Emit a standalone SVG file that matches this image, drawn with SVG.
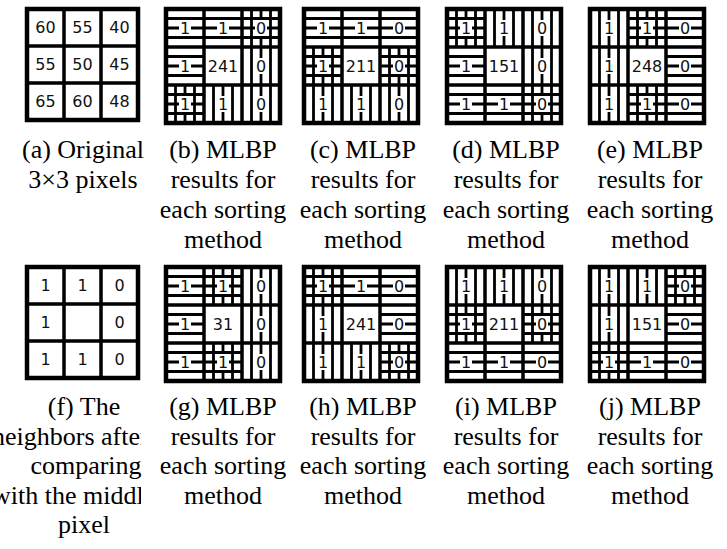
<svg xmlns="http://www.w3.org/2000/svg" xmlns:xlink="http://www.w3.org/1999/xlink" width="727" height="549" viewBox="0 0 727 549">
  <style>
    .s { stroke: #000; stroke-width: 2.8; fill: none; }
    .fo { stroke: #000; stroke-width: 4.5; fill: none; }
    .fi { stroke: #000; stroke-width: 3.5; fill: none; }
    .num { font-family: "DejaVu Sans", sans-serif; font-size: 16px; fill: #111; text-anchor: middle; }
    .cap { font-family: "Liberation Serif", "Times New Roman", serif; font-size: 26px; fill: #000; text-anchor: middle; }
    .capl { font-family: "Liberation Serif", "Times New Roman", serif; font-size: 26px; fill: #000; }
  </style>
  <defs>
    <!-- cell textures: horizontal bars, vertical bars, and both -->
    <g id="h"><path class="s" d="M0 9.5H38M0 19H38M0 28.5H38"/></g>
    <g id="v"><path class="s" d="M9.5 0V38M19 0V38M28.5 0V38"/></g>
    <g id="g"><use href="#h"/><use href="#v"/></g>
    <!-- 3x3 frames -->
    <g id="frame"><rect x="0" y="0" width="114" height="114" class="fo"/><path class="fi" d="M38 0V114M76 0V114M0 38H114M0 76H114"/></g>
    <g id="frame37"><rect x="0" y="0" width="111" height="111" class="fo"/><path class="fi" d="M37 0V111M74 0V111M0 37H111M0 74H111"/></g>
    <!-- white pad behind a single digit -->
    <rect id="box" x="-6" y="-8" width="12" height="16" fill="#fff"/>
    <!-- shared digit layout of the eight neighbours -->
    <g id="digits">
      <use href="#box" x="19" y="19"/><use href="#box" x="57" y="19"/><use href="#box" x="95" y="19"/>
      <use href="#box" x="19" y="57"/><use href="#box" x="95" y="57"/>
      <use href="#box" x="19" y="95"/><use href="#box" x="57" y="95"/><use href="#box" x="95" y="95"/>
      <text class="num" x="19" y="24.8">1</text><text class="num" x="57" y="24.8">1</text><text class="num" x="95" y="24.8">0</text>
      <text class="num" x="19" y="62.8">1</text><text class="num" x="95" y="62.8">0</text>
      <text class="num" x="19" y="100.8">1</text><text class="num" x="57" y="100.8">1</text><text class="num" x="95" y="100.8">0</text>
    </g>
    <clipPath id="colF"><rect x="0" y="380" width="141" height="169"/></clipPath>
  </defs>

  <rect width="727" height="549" fill="#fff"/>

  <!-- (a) original pixels -->
  <g id="panel-a" transform="translate(27,9)">
    <use href="#frame37"/>
    <text class="num" x="18.5" y="24.3">60</text><text class="num" x="55.5" y="24.3">55</text><text class="num" x="92.5" y="24.3">40</text>
    <text class="num" x="18.5" y="61.3">55</text><text class="num" x="55.5" y="61.3">50</text><text class="num" x="92.5" y="61.3">45</text>
    <text class="num" x="18.5" y="98.3">65</text><text class="num" x="55.5" y="98.3">60</text><text class="num" x="92.5" y="98.3">48</text>
  </g>

  <!-- (b) -->
  <g id="panel-b" transform="translate(166,9)">
    <use href="#h" x="0" y="0"/><use href="#h" x="38" y="0"/><use href="#g" x="76" y="0"/>
    <use href="#h" x="0" y="38"/><use href="#v" x="76" y="38"/>
    <use href="#g" x="0" y="76"/><use href="#v" x="38" y="76"/><use href="#v" x="76" y="76"/>
    <use href="#frame"/><use href="#digits"/>
    <text class="num" x="57" y="62.8">241</text>
  </g>

  <!-- (c) -->
  <g id="panel-c" transform="translate(304,9)">
    <use href="#h" x="0" y="0"/><use href="#h" x="38" y="0"/><use href="#h" x="76" y="0"/>
    <use href="#g" x="0" y="38"/><use href="#g" x="76" y="38"/>
    <use href="#v" x="0" y="76"/><use href="#v" x="38" y="76"/><use href="#v" x="76" y="76"/>
    <use href="#frame"/><use href="#digits"/>
    <text class="num" x="57" y="62.8">211</text>
  </g>

  <!-- (d) -->
  <g id="panel-d" transform="translate(447,9)">
    <use href="#g" x="0" y="0"/><use href="#v" x="38" y="0"/><use href="#v" x="76" y="0"/>
    <use href="#h" x="0" y="38"/><use href="#v" x="76" y="38"/>
    <use href="#h" x="0" y="76"/><use href="#h" x="38" y="76"/><use href="#g" x="76" y="76"/>
    <use href="#frame"/><use href="#digits"/>
    <text class="num" x="57" y="62.8">151</text>
  </g>

  <!-- (e) -->
  <g id="panel-e" transform="translate(590,9)">
    <use href="#v" x="0" y="0"/><use href="#g" x="38" y="0"/><use href="#h" x="76" y="0"/>
    <use href="#v" x="0" y="38"/><use href="#h" x="76" y="38"/>
    <use href="#v" x="0" y="76"/><use href="#g" x="38" y="76"/><use href="#h" x="76" y="76"/>
    <use href="#frame"/><use href="#digits"/>
    <text class="num" x="57" y="62.8">248</text>
  </g>

  <!-- (f) thresholded neighbours -->
  <g id="panel-f" transform="translate(27,267)">
    <use href="#frame37"/>
    <text class="num" x="18.5" y="24.3">1</text><text class="num" x="55.5" y="24.3">1</text><text class="num" x="92.5" y="24.3">0</text>
    <text class="num" x="18.5" y="61.3">1</text><text class="num" x="92.5" y="61.3">0</text>
    <text class="num" x="18.5" y="98.3">1</text><text class="num" x="55.5" y="98.3">1</text><text class="num" x="92.5" y="98.3">0</text>
  </g>

  <!-- (g) -->
  <g id="panel-g" transform="translate(166,267)">
    <use href="#h" x="0" y="0"/><use href="#g" x="38" y="0"/><use href="#v" x="76" y="0"/>
    <use href="#h" x="0" y="38"/><use href="#v" x="76" y="38"/>
    <use href="#h" x="0" y="76"/><use href="#g" x="38" y="76"/><use href="#v" x="76" y="76"/>
    <use href="#frame"/><use href="#digits"/>
    <text class="num" x="57" y="62.8">31</text>
  </g>

  <!-- (h) -->
  <g id="panel-h" transform="translate(304,267)">
    <use href="#g" x="0" y="0"/><use href="#h" x="38" y="0"/><use href="#h" x="76" y="0"/>
    <use href="#v" x="0" y="38"/><use href="#h" x="76" y="38"/>
    <use href="#v" x="0" y="76"/><use href="#v" x="38" y="76"/><use href="#g" x="76" y="76"/>
    <use href="#frame"/><use href="#digits"/>
    <text class="num" x="57" y="62.8">241</text>
  </g>

  <!-- (i) -->
  <g id="panel-i" transform="translate(447,267)">
    <use href="#v" x="0" y="0"/><use href="#v" x="38" y="0"/><use href="#v" x="76" y="0"/>
    <use href="#g" x="0" y="38"/><use href="#g" x="76" y="38"/>
    <use href="#h" x="0" y="76"/><use href="#h" x="38" y="76"/><use href="#h" x="76" y="76"/>
    <use href="#frame"/><use href="#digits"/>
    <text class="num" x="57" y="62.8">211</text>
  </g>

  <!-- (j) -->
  <g id="panel-j" transform="translate(590,267)">
    <use href="#v" x="0" y="0"/><use href="#v" x="38" y="0"/><use href="#g" x="76" y="0"/>
    <use href="#v" x="0" y="38"/><use href="#h" x="76" y="38"/>
    <use href="#g" x="0" y="76"/><use href="#h" x="38" y="76"/><use href="#h" x="76" y="76"/>
    <use href="#frame"/><use href="#digits"/>
    <text class="num" x="57" y="62.8">151</text>
  </g>

  <!-- captions, top row -->
  <g id="captions-top">
    <text class="cap" x="83" y="158">(a) Original</text>
    <text class="cap" x="83" y="188">3×3 pixels</text>
    <text class="cap" x="223" y="158">(b) MLBP</text>
    <text class="cap" x="223" y="188">results for</text>
    <text class="cap" x="223" y="218">each sorting</text>
    <text class="cap" x="223" y="248">method</text>
    <text class="cap" x="363" y="158">(c) MLBP</text>
    <text class="cap" x="363" y="188">results for</text>
    <text class="cap" x="363" y="218">each sorting</text>
    <text class="cap" x="363" y="248">method</text>
    <text class="cap" x="506" y="158">(d) MLBP</text>
    <text class="cap" x="506" y="188">results for</text>
    <text class="cap" x="506" y="218">each sorting</text>
    <text class="cap" x="506" y="248">method</text>
    <text class="cap" x="650" y="158">(e) MLBP</text>
    <text class="cap" x="650" y="188">results for</text>
    <text class="cap" x="650" y="218">each sorting</text>
    <text class="cap" x="650" y="248">method</text>
  </g>

  <!-- captions, bottom row -->
  <g id="captions-bottom">
    <text class="cap" x="84" y="415">(f) The</text>
    <text class="capl" x="-8" y="445" clip-path="url(#colF)">neighbors after</text>
    <text class="cap" x="86" y="474">comparing</text>
    <text class="capl" x="-8" y="504" clip-path="url(#colF)">with the middle</text>
    <text class="cap" x="84" y="533">pixel</text>
    <text class="cap" x="223" y="415">(g) MLBP</text>
    <text class="cap" x="223" y="445">results for</text>
    <text class="cap" x="223" y="474">each sorting</text>
    <text class="cap" x="223" y="504">method</text>
    <text class="cap" x="363" y="415">(h) MLBP</text>
    <text class="cap" x="363" y="445">results for</text>
    <text class="cap" x="363" y="474">each sorting</text>
    <text class="cap" x="363" y="504">method</text>
    <text class="cap" x="506" y="415">(i) MLBP</text>
    <text class="cap" x="506" y="445">results for</text>
    <text class="cap" x="506" y="474">each sorting</text>
    <text class="cap" x="506" y="504">method</text>
    <text class="cap" x="650" y="415">(j) MLBP</text>
    <text class="cap" x="650" y="445">results for</text>
    <text class="cap" x="650" y="474">each sorting</text>
    <text class="cap" x="650" y="504">method</text>
  </g>
</svg>
